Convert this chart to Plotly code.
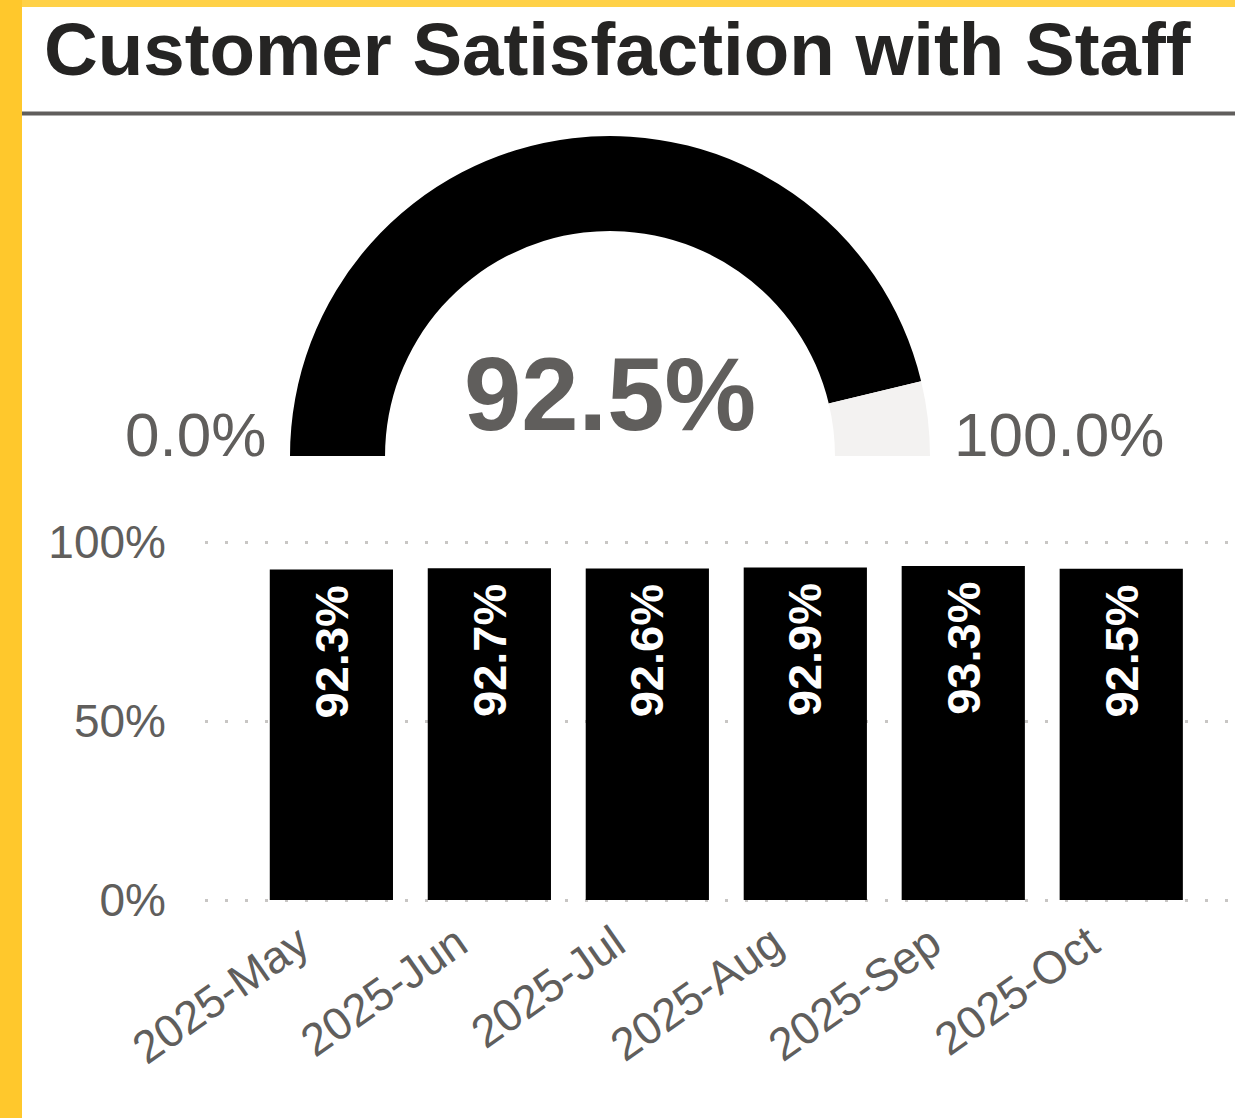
import plotly.graph_objects as go

# ---- data ----
title_text = "Customer Satisfaction with Staff"
gauge_value = 92.5
gauge_min = 0.0
gauge_max = 100.0
months = ["2025-May", "2025-Jun", "2025-Jul", "2025-Aug", "2025-Sep", "2025-Oct"]
satisfaction = [92.3, 92.7, 92.6, 92.9, 93.3, 92.5]
y_ticks = [0, 50, 100]
y_tick_labels = ["0%", "50%", "100%"]

W, H = 1235, 1118
FONT = "Liberation Sans"
GRAY = "#605E5C"


def px(x):
    return x / W


def py(y):
    return 1 - y / H


fig = go.Figure()

# ---- gauge (half donut drawn as a pie with transparent lower half) ----
gauge_vals = [gauge_value - gauge_min, gauge_max - gauge_value, gauge_max - gauge_min]
fig.add_trace(go.Pie(
    values=gauge_vals,
    labels=["value", "rest", "hidden"],
    marker=dict(colors=["#000000", "#F3F2F1", "rgba(0,0,0,0)"], line=dict(width=0)),
    hole=0.703,
    sort=False,
    direction="clockwise",
    rotation=-90,
    textinfo="none",
    hoverinfo="skip",
    showlegend=False,
    domain=dict(x=[px(290), px(930)], y=[py(776), py(136)]),
))

# ---- bars ----
fig.add_trace(go.Bar(
    x=months,
    y=satisfaction,
    marker=dict(color="#000000", line=dict(width=0)),
    width=0.78,
    hoverinfo="skip",
    showlegend=False,
))

# y range padded slightly so the 0% and 100% grid lines are drawn
Y0, Y1 = -2, 102
unit = (900 - 542) / 100.0
fig.update_layout(
    template="none",
    width=W, height=H,
    autosize=False,
    margin=dict(l=0, r=0, t=0, b=0, pad=0),
    paper_bgcolor="white",
    plot_bgcolor="white",
    font=dict(family=FONT, color=GRAY),
    xaxis=dict(
        automargin=False,
        domain=[px(205), 1],
        range=[-0.80, 5.72],
        showgrid=False, zeroline=False, showline=False,
        ticks="",
        tickangle=-35,
        ticklabelshift=-32,
        tickfont=dict(family=FONT, size=45.5, color=GRAY),
        fixedrange=True,
    ),
    yaxis=dict(
        automargin=False,
        domain=[py(900 - Y0 * unit), py(542 - (Y1 - 100) * unit)],
        range=[Y0, Y1],
        tickvals=y_ticks,
        ticktext=y_tick_labels,
        showgrid=True,
        gridcolor="#C8C6C4",
        gridwidth=2.5,
        griddash="2.5px,17.5px",
        zeroline=False, showline=False,
        ticks="",
        ticklabelstandoff=38,
        tickfont=dict(family=FONT, size=46, color=GRAY),
        fixedrange=True,
    ),
)

shapes = [
    dict(type="rect", xref="paper", yref="paper", x0=0, x1=px(22), y0=0, y1=1,
         fillcolor="#FFC82C", line=dict(width=0), layer="above"),
    dict(type="rect", xref="paper", yref="paper", x0=px(22), x1=1, y0=py(7), y1=1,
         fillcolor="#FFD147", line=dict(width=0), layer="above"),
    dict(type="line", xref="paper", yref="paper", x0=px(22), x1=1, y0=py(113.5), y1=py(113.5),
         line=dict(color=GRAY, width=4)),
]

annotations = [
    dict(text=f"<b>{title_text}</b>", xref="paper", yref="paper", x=px(42), y=py(50),
         xanchor="left", yanchor="middle", showarrow=False,
         font=dict(family=FONT, size=74.5, color="#252423")),
    dict(text=f"<b>{gauge_value:.1f}%</b>", xref="paper", yref="paper", x=px(610), y=py(394),
         xanchor="center", yanchor="middle", showarrow=False,
         font=dict(family=FONT, size=103, color=GRAY)),
    dict(text=f"{gauge_min:.1f}%", xref="paper", yref="paper", x=px(268), y=py(434),
         xanchor="right", yanchor="middle", showarrow=False,
         font=dict(family=FONT, size=62, color=GRAY)),
    dict(text=f"{gauge_max:.1f}%", xref="paper", yref="paper", x=px(952), y=py(434),
         xanchor="left", yanchor="middle", showarrow=False,
         font=dict(family=FONT, size=62, color=GRAY)),
]

# bar value labels, rotated, placed just inside the top of each bar
for m, v in zip(months, satisfaction):
    annotations.append(dict(
        text=f"<b>{v:.1f}%</b>", x=m, y=v, xref="x", yref="y",
        yanchor="top", xanchor="center", yshift=-14, textangle=-90,
        showarrow=False, font=dict(family=FONT, size=47, color="white"),
    ))

fig.update_layout(shapes=shapes, annotations=annotations)

fig.write_html(
    "out.html",
    config={"displayModeBar": False},
    post_script="document.body.style.margin='0';document.body.style.overflow='hidden';",
)
